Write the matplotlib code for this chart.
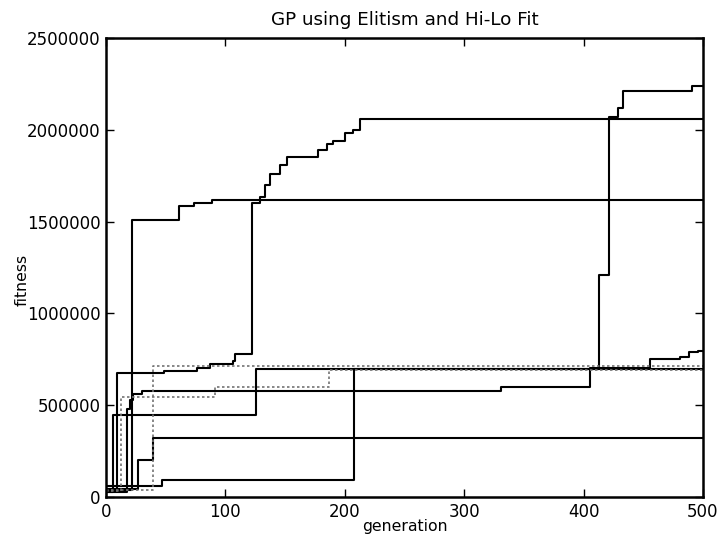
import matplotlib
matplotlib.use("Agg")
import matplotlib.pyplot as plt
from matplotlib.ticker import ScalarFormatter

# step runs: generation where fitness changes, and the new best fitness
a_gen = [0, 22, 61, 74, 89, 500]
a_fit = [40000, 1510000, 1585000, 1603000, 1618000, 1618000]

b_gen = [0, 9, 49, 76, 87, 106, 108, 122, 129, 133, 137, 146, 152, 178, 185, 190, 200, 207, 213, 500]
b_fit = [45000, 677000, 687000, 705000, 722000, 740000, 779000, 1603000, 1636000, 1700000,
         1760000, 1810000, 1850000, 1890000, 1920000, 1940000, 1980000, 2000000, 2060000, 2060000]

d_gen = [0, 6, 126, 413, 421, 429, 433, 491, 500]
d_fit = [30000, 447000, 697000, 1210000, 2070000, 2120000, 2210000, 2240000, 2240000]

e_gen = [0, 47, 208, 500]
e_fit = [60000, 93000, 697000, 697000]

f_gen = [0, 27, 39, 500]
f_fit = [45000, 201000, 321000, 321000]

g_gen = [0, 18, 20, 23, 30, 331, 405, 456, 481, 488, 496, 500]
g_fit = [30000, 480000, 530000, 560000, 577000, 601000, 705000, 751000, 764000, 790000, 797000, 797000]

h_gen = [0, 13, 91, 187, 500]
h_fit = [35000, 546000, 599000, 692000, 692000]

i_gen = [0, 39, 500]
i_fit = [40000, 715000, 715000]

fig = plt.figure(figsize=(7.18, 5.35), dpi=100)
ax = fig.add_axes([0.1476, 0.071, 0.8314, 0.858])

# solid runs
for gx, fy in [(a_gen, a_fit), (b_gen, b_fit), (d_gen, d_fit), (e_gen, e_fit),
               (f_gen, f_fit), (g_gen, g_fit)]:
    ax.step(gx, fy, where="post", color="black", lw=1.5)

# faint runs (light colours in the scan)
for gx, fy in [(h_gen, h_fit), (i_gen, i_fit)]:
    ax.step(gx, fy, where="post", color="0.45", lw=1.2, linestyle=(0, (1.5, 1.5)))

ax.set_xlim(0, 500)
ax.set_ylim(0, 2500000)
ax.set_xticks([0, 100, 200, 300, 400, 500])
ax.set_yticks([0, 500000, 1000000, 1500000, 2000000, 2500000])
fmt = ScalarFormatter(useOffset=False)
fmt.set_scientific(False)
ax.yaxis.set_major_formatter(fmt)
ax.tick_params(direction="in", top=True, right=True, length=6, width=1, labelsize=12, pad=4)
for s in ax.spines.values():
    s.set_linewidth(1.8)

ax.set_title("GP using Elitism and Hi-Lo Fit", fontsize=13.2, pad=9)
ax.set_xlabel("generation", fontsize=11.3, labelpad=-1)
ax.set_ylabel("fitness", fontsize=11.3)
ax.yaxis.set_label_coords(-0.128, 0.473)

fig.savefig("out.png", dpi=100)
